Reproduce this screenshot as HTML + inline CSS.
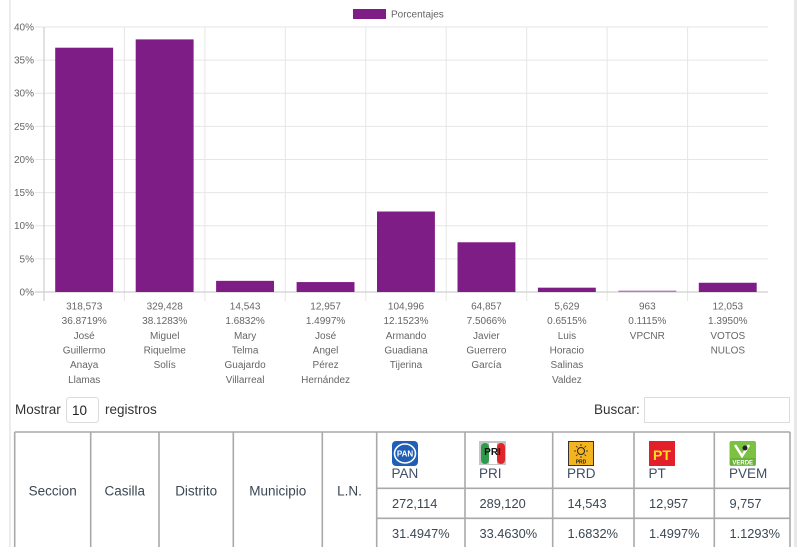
<!DOCTYPE html>
<html><head><meta charset="utf-8"><style>
html,body{margin:0;padding:0;background:#fff;}
svg{display:block;}
.yl{font-family:"Liberation Sans",Arial,sans-serif;font-size:10px;fill:#666;text-anchor:end;}
.xl{font-family:"Liberation Sans",Arial,sans-serif;font-size:10px;fill:#666;text-anchor:middle;}
.ui{font-family:"Liberation Sans",Arial,sans-serif;font-size:13.5px;fill:#333;}
.th{font-family:"Liberation Sans",Arial,sans-serif;font-size:13.5px;fill:#3b4754;text-anchor:middle;}
.pt{font-family:"Liberation Sans",Arial,sans-serif;font-size:13.5px;fill:#3f4f66;}
.td{font-family:"Liberation Sans",Arial,sans-serif;font-size:12.8px;fill:#3b4754;}
</style></head><body>
<svg width="800" height="547" viewBox="0 0 800 547" xmlns="http://www.w3.org/2000/svg">
<rect width="800" height="547" fill="#fff"/>
<rect x="9" y="0" width="2" height="547" fill="#ececec"/>
<rect x="794" y="0" width="3" height="547" fill="#e8e8e8"/>

<rect x="353" y="9" width="33" height="10" fill="#7f1d87"/>
<text x="391" y="17.5" style="font-family:'Liberation Sans',Arial,sans-serif;font-size:10px;fill:#666;">Porcentajes</text>

<g stroke="#e6e6e6" stroke-width="1">
<line x1="35" y1="27" x2="768" y2="27"/>
<line x1="35" y1="60.1" x2="768" y2="60.1"/>
<line x1="35" y1="93.25" x2="768" y2="93.25"/>
<line x1="35" y1="126.4" x2="768" y2="126.4"/>
<line x1="35" y1="159.5" x2="768" y2="159.5"/>
<line x1="35" y1="192.6" x2="768" y2="192.6"/>
<line x1="35" y1="225.75" x2="768" y2="225.75"/>
<line x1="35" y1="258.9" x2="768" y2="258.9"/>
</g>
<g stroke="#e6e6e6" stroke-width="1">
<line x1="124.4" y1="27" x2="124.4" y2="301"/>
<line x1="204.9" y1="27" x2="204.9" y2="301"/>
<line x1="285.3" y1="27" x2="285.3" y2="301"/>
<line x1="365.8" y1="27" x2="365.8" y2="301"/>
<line x1="446.2" y1="27" x2="446.2" y2="301"/>
<line x1="526.7" y1="27" x2="526.7" y2="301"/>
<line x1="607.1" y1="27" x2="607.1" y2="301"/>
<line x1="687.6" y1="27" x2="687.6" y2="301"/>
</g>
<line x1="44" y1="27" x2="44" y2="301" stroke="#cfcfcf" stroke-width="1.2"/>
<line x1="35" y1="292" x2="768" y2="292" stroke="#cfcfcf" stroke-width="1.2"/>

<text class="yl" x="34" y="30.5">40%</text>
<text class="yl" x="34" y="63.6">35%</text>
<text class="yl" x="34" y="96.7">30%</text>
<text class="yl" x="34" y="129.9">25%</text>
<text class="yl" x="34" y="163">20%</text>
<text class="yl" x="34" y="196.1">15%</text>
<text class="yl" x="34" y="229.2">10%</text>
<text class="yl" x="34" y="262.4">5%</text>
<text class="yl" x="34" y="295.5">0%</text>

<g fill="#7f1d87">
<rect x="55.2" y="47.7" width="57.9" height="244.3"/>
<rect x="135.7" y="39.4" width="57.9" height="252.6"/>
<rect x="216.1" y="280.85" width="57.9" height="11.15"/>
<rect x="296.6" y="282.06" width="57.9" height="9.94"/>
<rect x="377.0" y="211.5" width="57.9" height="80.5"/>
<rect x="457.5" y="242.27" width="57.9" height="49.73"/>
<rect x="537.9" y="287.68" width="57.9" height="4.32"/>
<rect x="698.8" y="282.76" width="57.9" height="9.24"/>
</g>
<rect x="618.4" y="290.6" width="57.9" height="1.4" fill="#b77dbb"/>

<g class="xl">
<text x="84.2" y="309.5">318,573</text><text x="84.2" y="324.2">36.8719%</text><text x="84.2" y="338.9">José</text><text x="84.2" y="353.5">Guillermo</text><text x="84.2" y="368.2">Anaya</text><text x="84.2" y="382.9">Llamas</text>
<text x="164.7" y="309.5">329,428</text><text x="164.7" y="324.2">38.1283%</text><text x="164.7" y="338.9">Miguel</text><text x="164.7" y="353.5">Riquelme</text><text x="164.7" y="368.2">Solís</text>
<text x="245.1" y="309.5">14,543</text><text x="245.1" y="324.2">1.6832%</text><text x="245.1" y="338.9">Mary</text><text x="245.1" y="353.5">Telma</text><text x="245.1" y="368.2">Guajardo</text><text x="245.1" y="382.9">Villarreal</text>
<text x="325.6" y="309.5">12,957</text><text x="325.6" y="324.2">1.4997%</text><text x="325.6" y="338.9">José</text><text x="325.6" y="353.5">Angel</text><text x="325.6" y="368.2">Pérez</text><text x="325.6" y="382.9">Hernández</text>
<text x="406.0" y="309.5">104,996</text><text x="406.0" y="324.2">12.1523%</text><text x="406.0" y="338.9">Armando</text><text x="406.0" y="353.5">Guadiana</text><text x="406.0" y="368.2">Tijerina</text>
<text x="486.4" y="309.5">64,857</text><text x="486.4" y="324.2">7.5066%</text><text x="486.4" y="338.9">Javier</text><text x="486.4" y="353.5">Guerrero</text><text x="486.4" y="368.2">García</text>
<text x="566.9" y="309.5">5,629</text><text x="566.9" y="324.2">0.6515%</text><text x="566.9" y="338.9">Luis</text><text x="566.9" y="353.5">Horacio</text><text x="566.9" y="368.2">Salinas</text><text x="566.9" y="382.9">Valdez</text>
<text x="647.3" y="309.5">963</text><text x="647.3" y="324.2">0.1115%</text><text x="647.3" y="338.9">VPCNR</text>
<text x="727.8" y="309.5">12,053</text><text x="727.8" y="324.2">1.3950%</text><text x="727.8" y="338.9">VOTOS</text><text x="727.8" y="353.5">NULOS</text>
</g>

<text class="ui" x="15" y="414">Mostrar</text>
<rect x="66.5" y="397.5" width="32" height="25" rx="3" fill="#fff" stroke="#dcdcdc"/>
<text class="ui" x="72" y="415" style="fill:#222">10</text>
<text class="ui" x="105" y="414">registros</text>
<text class="ui" x="594" y="414">Buscar:</text>
<rect x="644.5" y="397.5" width="145" height="25" fill="#fff" stroke="#dcdcdc"/>

<g stroke="#a9a9a9" stroke-width="1.6" fill="none">
<line x1="14.7" y1="432" x2="790" y2="432"/>
<line x1="376.7" y1="488.3" x2="790" y2="488.3"/>
<line x1="376.7" y1="518.3" x2="790" y2="518.3"/>
<line x1="14.7" y1="432" x2="14.7" y2="547"/>
<line x1="90.7" y1="432" x2="90.7" y2="547"/>
<line x1="159" y1="432" x2="159" y2="547"/>
<line x1="233.3" y1="432" x2="233.3" y2="547"/>
<line x1="322.3" y1="432" x2="322.3" y2="547"/>
<line x1="376.7" y1="432" x2="376.7" y2="547"/>
<line x1="465" y1="432" x2="465" y2="547"/>
<line x1="552.7" y1="432" x2="552.7" y2="547"/>
<line x1="634" y1="432" x2="634" y2="547"/>
<line x1="714.3" y1="432" x2="714.3" y2="547"/>
<line x1="790" y1="432" x2="790" y2="547"/>
</g>

<text class="th" x="52.7" y="495.5">Seccion</text>
<text class="th" x="124.8" y="495.5">Casilla</text>
<text class="th" x="196.2" y="495.5">Distrito</text>
<text class="th" x="277.8" y="495.5">Municipio</text>
<text class="th" x="349.5" y="495.5">L.N.</text>

<rect x="392" y="441" width="26" height="25" rx="4" fill="#1f5fb8"/>
<ellipse cx="405" cy="453.5" rx="10.5" ry="9.5" fill="none" stroke="#fff" stroke-width="1.6"/>
<text x="405" y="456.5" text-anchor="middle" style="font-family:'Liberation Sans',Arial,sans-serif;font-size:8px;font-weight:bold;fill:#fff;">PAN</text>
<rect x="479" y="441" width="27" height="24" fill="#c4c4c4"/>
<rect x="481" y="443" width="8" height="21" rx="4" fill="#2e9b4a"/>
<rect x="489" y="443" width="8" height="21" fill="#fff"/>
<rect x="497" y="443" width="8" height="21" rx="4" fill="#e0262b"/>
<text x="492.5" y="455" text-anchor="middle" style="font-family:'Liberation Sans',Arial,sans-serif;font-size:10px;font-weight:bold;fill:#111;">PRI</text>
<rect x="568.5" y="441.5" width="25" height="24" fill="#f4b41f" stroke="#333" stroke-width="1"/>
<circle cx="581" cy="451" r="3.5" fill="none" stroke="#222" stroke-width="1"/>
<g stroke="#222" stroke-width="0.8">
<line x1="581" y1="444" x2="581" y2="446"/><line x1="581" y1="456" x2="581" y2="458"/>
<line x1="574" y1="451" x2="576" y2="451"/><line x1="586" y1="451" x2="588" y2="451"/>
<line x1="576" y1="446" x2="577.5" y2="447.5"/><line x1="586" y1="446" x2="584.5" y2="447.5"/>
<line x1="576" y1="456" x2="577.5" y2="454.5"/><line x1="586" y1="456" x2="584.5" y2="454.5"/>
</g>
<text x="581" y="463.5" text-anchor="middle" style="font-family:'Liberation Sans',Arial,sans-serif;font-size:5px;font-weight:bold;fill:#222;">PRD</text>
<rect x="649" y="441" width="26" height="25" fill="#e3202a"/>
<text x="662" y="460" text-anchor="middle" style="font-family:'Liberation Sans',Arial,sans-serif;font-size:14px;font-weight:bold;fill:#f8e11a;">PT</text>
<rect x="729.5" y="441" width="26.5" height="25" rx="2" fill="#7cc242"/>
<path d="M735 445 L742 456 L749 445" fill="none" stroke="#fff" stroke-width="2.5"/>
<circle cx="745" cy="448" r="2.5" fill="#222"/>
<rect x="730" y="458" width="25.5" height="7" fill="#6bb336"/>
<text x="742.7" y="464.5" text-anchor="middle" style="font-family:'Liberation Sans',Arial,sans-serif;font-size:6px;font-weight:bold;fill:#fff;">VERDE</text>

<text class="pt" x="391.5" y="478">PAN</text>
<text class="pt" x="479" y="478">PRI</text>
<text class="pt" x="567" y="478">PRD</text>
<text class="pt" x="648.5" y="478">PT</text>
<text class="pt" x="729" y="478">PVEM</text>

<text class="td" x="392" y="508">272,114</text>
<text class="td" x="479.5" y="508">289,120</text>
<text class="td" x="567.5" y="508">14,543</text>
<text class="td" x="649" y="508">12,957</text>
<text class="td" x="729.5" y="508">9,757</text>

<text class="td" x="392" y="538">31.4947%</text>
<text class="td" x="479.5" y="538">33.4630%</text>
<text class="td" x="567.5" y="538">1.6832%</text>
<text class="td" x="649" y="538">1.4997%</text>
<text class="td" x="729.5" y="538">1.1293%</text>
</svg>
</body></html>
